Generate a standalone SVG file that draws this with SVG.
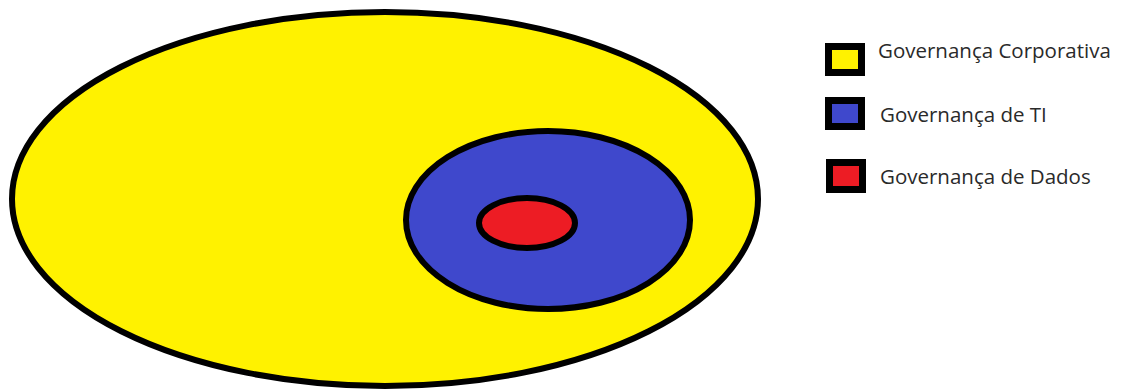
<svg xmlns="http://www.w3.org/2000/svg" width="1122" height="392" viewBox="0 0 1122 392">
<style>
.shape{stroke:#000;stroke-width:6}
.box{stroke:#000;stroke-width:7}
.lbl{font-family:"Open Sans","Liberation Sans",Arial,sans-serif;font-size:20.5px;fill:#2a2a2a}
</style>
<rect width="1122" height="392" fill="#fff"/>
<g id="corporativa"><ellipse class="shape" cx="385" cy="199" rx="373" ry="187" fill="#FFF200"/></g>
<g id="ti"><ellipse class="shape" cx="548" cy="220" rx="142" ry="89" fill="#3F48CC"/></g>
<g id="dados"><ellipse class="shape" cx="527" cy="223" rx="48" ry="25" fill="#ED1C24"/></g>
<g id="legend">
<g id="leg-corp"><rect class="box" x="828.5" y="46.5" width="33" height="26" fill="#FFF200"/><text class="lbl" x="878" y="58">Governança Corporativa</text></g>
<g id="leg-ti"><rect class="box" x="828.5" y="100.5" width="33" height="26" fill="#3F48CC"/><text class="lbl" x="880" y="122">Governança de TI</text></g>
<g id="leg-dados"><rect class="box" x="829.5" y="162.5" width="33" height="27" fill="#ED1C24"/><text class="lbl" x="880" y="184">Governança de Dados</text></g>
</g>
<g id="connectors"/>
</svg>
